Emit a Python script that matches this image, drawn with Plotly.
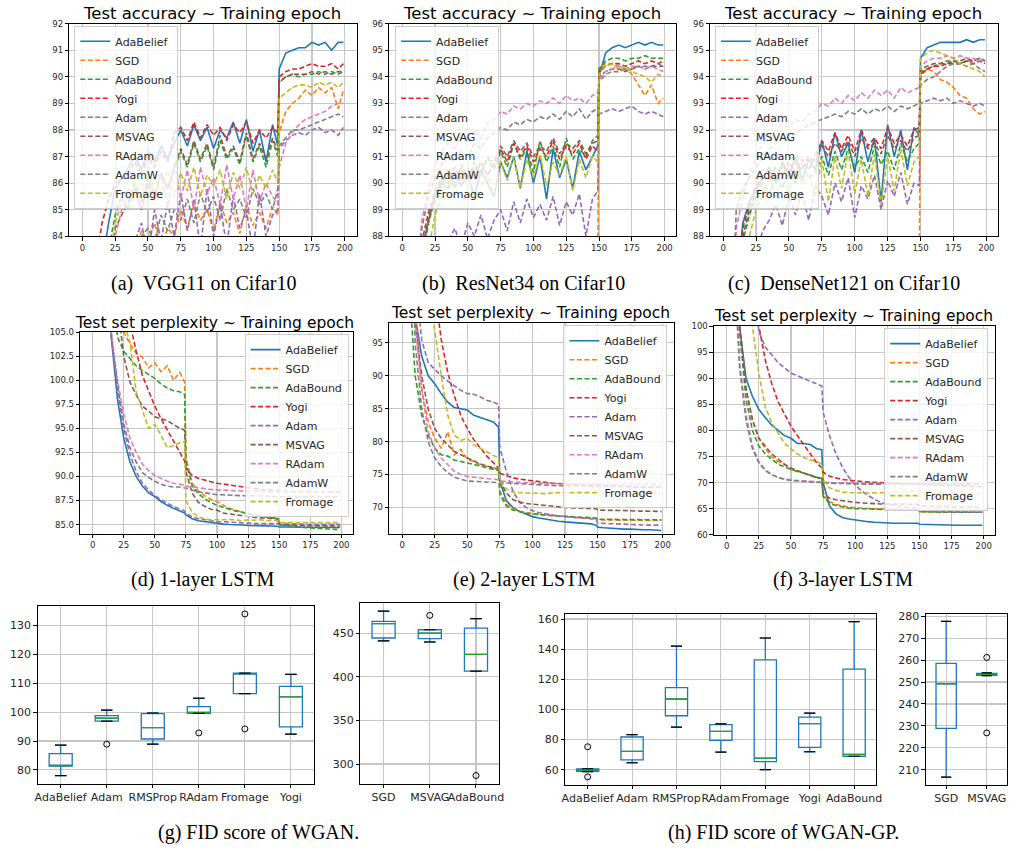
import plotly.graph_objects as go

W, H = 1019, 851

OPTIMIZERS = ["AdaBelief", "SGD", "AdaBound", "Yogi", "Adam", "MSVAG", "RAdam", "AdamW", "Fromage"]
COLORS = ["#1f77b4", "#ff7f0e", "#2ca02c", "#d62728", "#9467bd", "#8c564b", "#e377c2", "#7f7f7f", "#bcbd22"]

EPOCHS_CIFAR = list(range(0, 150, 5)) + [149] + list(range(150, 200, 5)) + [199]
EPOCHS_LSTM = list(range(0, 75, 5)) + [74] + list(range(75, 150, 5)) + [149] + list(range(150, 200, 5)) + [199]

# ---------------- (a) VGG11 on Cifar10 : test accuracy ----------------
vgg_adabelief = [70, 76, 80, 83, 84.5, 85.8, 86.2, 86.6, 87.0, 86.5, 87.2, 86.8, 87.4, 86.9, 87.5,
                 88.0, 87.4, 88.2, 87.6, 88.1, 87.3, 88.0, 87.7, 88.3, 87.5, 88.4, 87.2, 88.0, 86.8, 88.2,
                 87.4, 90.3, 90.9, 91.0, 91.1, 91.1, 91.3, 91.2, 91.3, 91.0, 91.3, 91.3]
vgg_sgd = [60, 70, 75, 78, 80, 81.5, 82.5, 83.0, 83.5, 84.2, 83.8, 84.5, 83.6, 84.3, 84.0,
           85.0, 84.3, 85.2, 84.6, 85.0, 84.2, 85.3, 84.5, 84.9, 84.1, 85.2, 84.4, 84.9, 84.3, 85.1,
           84.8, 87.9, 88.7, 89.0, 89.2, 89.5, 89.3, 89.6, 89.4, 89.6, 88.8, 89.5]
vgg_adabound = [65, 74, 79, 82, 83.5, 84.8, 85.5, 85.0, 86.0, 85.3, 86.2, 85.6, 86.4, 85.8, 86.5,
                87.2, 86.6, 87.5, 86.8, 87.4, 86.5, 87.6, 86.9, 87.3, 86.7, 87.8, 86.8, 87.4, 86.6, 87.6,
                87.0, 89.8, 90.0, 90.1, 90.0, 90.1, 90.1, 90.2, 90.1, 90.2, 90.1, 90.2]
vgg_yogi = [72, 80, 83, 84.5, 85.4, 86.0, 86.1, 86.4, 86.8, 86.3, 87.0, 86.6, 87.2, 86.8, 87.9,
            88.1, 87.6, 88.3, 87.7, 88.2, 87.8, 88.1, 87.6, 88.2, 87.9, 88.3, 87.5, 88.0, 87.7, 88.1,
            87.9, 90.0, 90.2, 90.3, 90.3, 90.4, 90.5, 90.4, 90.4, 90.5, 90.3, 90.5]
vgg_adam = [55, 65, 72, 77, 80, 82.0, 82.5, 83.0, 83.8, 84.5, 83.2, 85.0, 83.8, 85.3, 84.0,
            85.6, 84.2, 85.4, 83.5, 85.8, 84.0, 85.2, 83.6, 85.5, 84.3, 85.0, 83.4, 85.6, 84.0, 84.8,
            85.0, 87.3, 87.6, 87.8, 87.9, 87.8, 88.0, 88.1, 87.9, 88.0, 87.8, 88.1]
vgg_msvag = [60, 72, 78, 81, 83, 84.3, 84.8, 85.3, 85.8, 85.0, 86.0, 85.5, 86.3, 85.8, 86.6,
             87.3, 86.7, 87.6, 86.9, 87.5, 86.6, 87.8, 87.0, 87.4, 86.8, 87.9, 86.9, 87.5, 86.9, 87.7,
             87.2, 89.8, 90.0, 90.1, 90.1, 90.1, 90.2, 90.1, 90.2, 90.1, 90.2, 90.2]
vgg_radam = [55, 68, 75, 79, 82, 84.0, 85.0, 85.5, 85.8, 85.0, 86.0, 85.3, 86.4, 85.1, 86.8,
             85.4, 86.5, 85.0, 86.6, 85.6, 86.2, 85.2, 86.7, 85.4, 86.3, 85.0, 86.5, 85.3, 86.0, 85.5,
             85.2, 86.6, 87.5, 87.9, 88.2, 88.4, 88.5, 88.6, 88.7, 88.9, 89.0, 89.0]
vgg_adamw = [50, 62, 70, 75, 78, 80.5, 82.0, 83.0, 83.8, 84.0, 84.3, 83.8, 84.8, 84.2, 85.0,
             84.6, 85.4, 84.5, 85.6, 84.9, 85.5, 84.6, 85.8, 85.0, 85.4, 84.7, 85.8, 85.2, 85.6, 85.0,
             85.8, 87.4, 87.7, 88.0, 88.0, 88.1, 88.2, 88.3, 88.4, 88.5, 88.6, 88.5]
vgg_fromage = [58, 70, 77, 81, 83, 84.5, 85.3, 85.8, 85.5, 86.0, 85.3, 86.2, 85.6, 86.5, 85.5,
               86.4, 85.7, 86.6, 85.5, 86.3, 85.9, 86.5, 85.4, 86.4, 85.8, 86.6, 85.6, 86.3, 85.8, 86.5,
               86.0, 89.2, 89.4, 89.6, 89.7, 89.7, 89.6, 89.8, 89.7, 89.8, 89.6, 89.8]

# ---------------- (b) ResNet34 on Cifar10 ----------------
res_adabelief = [70, 80, 85, 87.5, 88.6, 89.6, 90.0, 89.8, 90.4, 89.9, 90.3, 89.5, 90.5, 90.0, 89.5,
                 90.8, 90.2, 91.0, 89.8, 91.2, 90.0, 91.0, 89.4, 91.3, 90.2, 90.9, 89.8, 91.2, 90.5, 91.0,
                 91.4, 94.0, 94.9, 95.1, 95.2, 95.1, 95.2, 95.3, 95.2, 95.3, 95.2, 95.2]
res_sgd = [60, 70, 76, 79, 81, 82.5, 83.5, 84.0, 84.5, 85.0, 85.3, 85.0, 85.6, 85.2, 85.5,
           86.3, 85.8, 86.5, 86.0, 86.4, 85.8, 86.6, 86.1, 86.3, 85.9, 86.5, 86.0, 86.2, 85.8, 86.4,
           86.5, 94.3, 94.5, 94.5, 94.4, 94.3, 94.1, 93.7, 93.3, 93.7, 93.0, 93.2]
res_adabound = [65, 78, 84, 87.0, 88.5, 89.4, 89.9, 90.4, 89.8, 90.6, 90.1, 90.8, 90.3, 91.0, 90.5,
                91.2, 90.6, 91.5, 90.9, 91.3, 90.4, 91.6, 90.8, 91.4, 90.6, 91.7, 90.9, 91.3, 91.0, 91.6,
                91.8, 94.3, 94.6, 94.7, 94.7, 94.6, 94.7, 94.7, 94.8, 94.7, 94.7, 94.7]
res_yogi = [68, 79, 85, 87.8, 88.9, 89.7, 90.2, 90.0, 90.6, 90.1, 90.5, 90.2, 90.8, 90.3, 90.7,
            91.3, 90.8, 91.5, 91.0, 91.4, 90.8, 91.3, 91.0, 91.6, 90.9, 91.4, 91.1, 91.5, 90.9, 91.4,
            91.2, 94.2, 94.4, 94.5, 94.5, 94.4, 94.5, 94.6, 94.5, 94.6, 94.5, 94.6]
res_adam = [55, 70, 78, 83, 85, 86.5, 87.5, 87.8, 88.3, 87.6, 88.5, 88.0, 88.8, 87.9, 88.6,
            89.0, 88.2, 89.3, 88.5, 89.4, 88.7, 89.2, 88.6, 89.5, 88.4, 89.3, 88.8, 89.6, 88.0, 89.4,
            89.7, 92.6, 92.7, 92.8, 92.7, 92.8, 92.9, 92.7, 92.6, 92.7, 92.6, 92.5]
res_msvag = [62, 77, 84, 87.3, 88.7, 89.5, 90.1, 90.5, 90.0, 90.7, 90.2, 90.6, 90.4, 90.9, 90.8,
             91.4, 91.0, 91.6, 91.2, 91.5, 91.0, 91.4, 91.2, 91.7, 91.1, 91.5, 91.3, 91.6, 91.1, 91.5,
             91.6, 94.0, 94.2, 94.3, 94.3, 94.2, 94.3, 94.4, 94.3, 94.4, 94.4, 94.4]
res_radam = [60, 78, 86, 88.6, 89.8, 90.6, 91.2, 91.5, 91.3, 91.8, 91.5, 92.0, 91.7, 92.3, 92.4,
             92.7, 92.6, 92.9, 92.8, 93.0, 92.9, 93.1, 93.0, 93.2, 93.0, 93.3, 93.1, 93.2, 93.0, 93.3,
             93.4, 93.9, 94.2, 94.3, 94.4, 94.3, 94.4, 94.4, 94.3, 94.4, 94.3, 94.2]
res_adamw = [58, 76, 85, 88.3, 89.5, 90.2, 90.7, 91.0, 90.8, 91.2, 91.0, 91.5, 91.3, 91.7, 91.9,
             92.1, 92.0, 92.3, 92.2, 92.4, 92.3, 92.5, 92.4, 92.6, 92.4, 92.7, 92.5, 92.8, 92.4, 92.7,
             92.8, 93.8, 94.1, 94.2, 94.2, 94.3, 94.3, 94.4, 94.4, 94.4, 94.5, 94.4]
res_fromage = [55, 72, 80, 85, 87.5, 88.8, 89.6, 90.2, 89.5, 90.4, 89.8, 90.6, 89.9, 90.3, 89.6,
               90.8, 90.1, 91.0, 89.8, 90.9, 90.2, 91.1, 89.9, 90.8, 90.3, 91.0, 89.7, 90.9, 90.2, 91.0,
               90.8, 94.1, 94.4, 94.5, 94.3, 94.4, 94.2, 94.1, 94.0, 93.8, 94.1, 94.0]

# ---------------- (c) DenseNet121 on Cifar10 ----------------
den_adabelief = [70, 80, 86, 88.5, 89.3, 89.8, 90.2, 90.6, 90.0, 90.8, 90.3, 91.0, 90.1, 90.9, 90.5,
                 91.6, 90.6, 91.9, 91.0, 91.5, 90.4, 92.0, 90.8, 91.7, 89.3, 92.2, 91.0, 92.0, 90.5, 92.1,
                 91.8, 94.7, 95.1, 95.2, 95.3, 95.3, 95.3, 95.3, 95.4, 95.3, 95.4, 95.4]
den_sgd = [58, 69, 75, 79, 81, 82.5, 83.2, 84.0, 84.3, 85.0, 85.1, 85.0, 85.5, 85.2, 85.6,
           86.2, 85.7, 86.4, 86.1, 86.3, 85.9, 86.5, 86.0, 86.4, 85.8, 86.6, 86.1, 86.3, 85.9, 86.5,
           86.4, 94.0, 94.3, 94.2, 93.9, 93.8, 93.6, 93.3, 93.2, 92.8, 92.6, 92.7]
den_adabound = [66, 79, 85, 87.8, 88.8, 89.5, 90.0, 89.6, 90.3, 89.8, 90.5, 90.0, 90.7, 90.2, 90.4,
                91.0, 90.3, 91.2, 90.5, 91.3, 90.6, 91.0, 90.4, 91.4, 90.7, 91.2, 90.5, 91.5, 90.8, 91.3,
                91.5, 94.2, 94.3, 94.4, 94.5, 94.5, 94.6, 94.5, 94.6, 94.6, 94.7, 94.6]
den_yogi = [68, 80, 86, 88.3, 89.2, 89.9, 90.3, 90.1, 90.6, 90.2, 90.8, 90.4, 90.9, 90.5, 91.0,
            91.6, 91.2, 91.9, 91.3, 91.8, 91.2, 92.0, 91.4, 91.7, 91.3, 92.1, 91.5, 91.8, 91.4, 92.0,
            92.1, 94.1, 94.3, 94.4, 94.4, 94.5, 94.5, 94.5, 94.6, 94.5, 94.6, 94.5]
den_adam = [55, 70, 79, 84, 86, 87.3, 88.2, 88.6, 89.2, 88.4, 89.5, 88.8, 89.7, 88.6, 89.9,
            89.5, 88.8, 90.0, 89.3, 90.2, 88.7, 89.9, 89.4, 90.3, 89.0, 90.1, 89.5, 90.4, 89.2, 90.0,
            89.9, 93.0, 93.1, 93.2, 93.1, 93.2, 93.0, 93.1, 93.0, 92.9, 93.0, 92.9]
den_msvag = [62, 78, 85, 88.0, 89.0, 89.7, 90.2, 90.5, 90.1, 90.7, 90.3, 90.8, 90.5, 91.0, 90.8,
             91.4, 91.0, 91.5, 91.2, 91.6, 91.0, 91.7, 91.3, 91.5, 91.1, 91.8, 91.3, 91.6, 91.2, 91.7,
             91.8, 94.3, 94.4, 94.5, 94.5, 94.6, 94.6, 94.6, 94.7, 94.6, 94.7, 94.6]
den_radam = [62, 82, 88.3, 89.5, 90.3, 91.0, 91.5, 91.8, 92.0, 92.2, 92.1, 92.4, 92.3, 92.6, 92.7,
             93.0, 92.9, 93.2, 93.0, 93.3, 93.1, 93.4, 93.2, 93.5, 93.3, 93.5, 93.2, 93.6, 93.4, 93.5,
             93.6, 94.4, 94.6, 94.7, 94.7, 94.8, 94.7, 94.8, 94.7, 94.7, 94.6, 94.7]
den_adamw = [60, 83, 89.0, 89.8, 90.2, 90.6, 91.0, 91.3, 91.5, 91.7, 91.6, 91.9, 92.0, 92.2, 92.3,
             92.4, 92.5, 92.6, 92.5, 92.7, 92.6, 92.8, 92.6, 92.8, 92.7, 92.9, 92.7, 92.9, 92.8, 92.9,
             93.0, 93.7, 93.9, 94.0, 94.2, 94.4, 94.5, 94.5, 94.4, 94.5, 94.3, 94.2]
den_fromage = [55, 72, 81, 86, 88, 89.0, 89.6, 90.3, 89.4, 90.5, 89.6, 90.8, 89.9, 90.4, 89.5,
               90.9, 89.3, 91.0, 89.8, 91.2, 89.6, 90.9, 89.5, 91.1, 89.2, 91.0, 89.7, 91.3, 89.9, 90.8,
               91.0, 94.7, 94.9, 95.0, 94.9, 94.8, 94.7, 94.5, 94.4, 94.3, 94.2, 94.0]

# ---------------- (d) 1-layer LSTM : test perplexity ----------------
l1_adabelief = [180, 140, 115, 104.5, 98, 94, 91.5, 90, 89, 88.3, 87.9, 87.4, 87.0, 86.7, 86.4,
                86.2,
                86.0, 85.6, 85.4, 85.3, 85.2, 85.1, 85.05, 85.0, 85.0, 84.95, 84.9, 84.9, 84.9, 84.85, 84.85,
                84.8,
                84.75, 84.75, 84.75, 84.7, 84.7, 84.7, 84.7, 84.7, 84.7, 84.7, 84.7]
l1_sgd = [250, 180, 140, 120, 112, 105, 103.8, 102.8, 102.4, 101.3, 101.8, 100.9, 101.5, 100.0, 100.8,
          99.8,
          92.0, 89.3, 88.5, 88.0, 87.6, 87.4, 87.0, 86.7, 86.5, 86.3, 86.1, 86.0, 85.9, 85.8, 85.7,
          85.6,
          85.2, 85.1, 85.1, 85.05, 85.0, 85.0, 85.0, 85.0, 85.0, 85.0, 85.0]
l1_adabound = [240, 170, 130, 112, 104.5, 103.0, 102.3, 101.5, 101.0, 100.6, 100.2, 99.6, 99.2, 98.9, 98.8,
               98.5,
               91.5, 89.0, 88.2, 87.7, 87.3, 87.0, 86.8, 86.6, 86.4, 86.3, 86.1, 86.0, 85.9, 85.8, 85.7,
               85.6,
               85.0, 84.9, 84.8, 84.75, 84.7, 84.65, 84.6, 84.6, 84.55, 84.5, 84.5]
l1_yogi = [400, 250, 170, 135, 118, 110, 106, 103, 100.5, 98.8, 97.3, 96.0, 94.8, 93.6, 92.5,
           91.6,
           90.8, 90.1, 89.8, 89.6, 89.45, 89.3, 89.2, 89.1, 89.0, 88.9, 88.8, 88.7, 88.65, 88.6, 88.55,
           88.5,
           88.5, 88.45, 88.45, 88.4, 88.4, 88.4, 88.4, 88.4, 88.4, 88.4, 88.4]
l1_adam = [175, 135, 112, 104.8, 99, 95, 92.3, 90.5, 89.3, 88.6, 88.0, 87.6, 87.2, 86.9, 86.6,
           86.4,
           86.2, 85.8, 85.6, 85.5, 85.4, 85.3, 85.3, 85.25, 85.2, 85.2, 85.15, 85.1, 85.1, 85.1, 85.1,
           85.1,
           85.0, 85.0, 85.0, 85.0, 85.0, 85.0, 85.0, 85.0, 85.0, 85.0, 85.0]
l1_msvag = [230, 170, 130, 115, 108, 102.5, 99.8, 98.5, 97.3, 96.8, 96.2, 96.0, 95.8, 95.4, 95.0,
            94.8,
            90.5, 88.3, 87.3, 86.9, 86.6, 86.5, 86.2, 86.1, 86.0, 85.9, 85.8, 85.75, 85.7, 85.65, 85.6,
            85.6,
            85.0, 84.95, 84.9, 84.9, 84.9, 84.9, 84.9, 84.9, 84.85, 84.85, 84.85]
l1_radam = [190, 145, 118, 105, 100, 96.5, 94, 92.5, 91.3, 90.6, 90.1, 89.8, 89.5, 89.3, 89.2,
            89.1,
            89.0, 88.9, 88.8, 88.7, 88.65, 88.6, 88.6, 88.55, 88.5, 88.5, 88.5, 88.45, 88.45, 88.4, 88.4,
            88.4,
            88.4, 88.4, 88.4, 88.4, 88.4, 88.4, 88.4, 88.4, 88.4, 88.4, 88.4]
l1_adamw = [185, 140, 116, 104.5, 99.5, 95.5, 93, 91.5, 90.4, 89.9, 89.5, 89.2, 89.0, 88.9, 88.9,
            88.8,
            88.8, 88.6, 88.4, 88.3, 88.2, 88.1, 88.1, 88.05, 88.0, 88.0, 88.0, 88.0, 87.95, 87.95, 87.9,
            87.9,
            87.9, 87.9, 87.9, 87.9, 87.9, 87.9, 87.9, 87.9, 87.9, 87.9, 87.9]
l1_fromage = [260, 190, 145, 120, 110, 106, 104, 98.8, 96.8, 95.0, 95.4, 94.3, 93.0, 93.2, 93.5,
              93.6,
              87.5, 86.3, 85.8, 85.6, 85.5, 85.5, 85.5, 85.45, 85.5, 85.4, 85.5, 85.45, 85.5, 85.4, 85.45,
              85.4,
              85.2, 85.2, 85.2, 85.25, 85.2, 85.25, 85.2, 85.2, 85.25, 85.2, 85.2]

# ---------------- (e) 2-layer LSTM ----------------
l2_adabelief = [200, 130, 99, 93, 90, 88.8, 87.3, 86.0, 85.2, 85.0, 84.8, 84.0, 83.7, 83.3, 83.0,
                82.2,
                74.0, 71.0, 70.0, 69.4, 69.0, 68.6, 68.4, 68.2, 68.0, 67.9, 67.8, 67.7, 67.7, 67.6, 67.5,
                67.3,
                67.0, 66.9, 66.8, 66.8, 66.7, 66.7, 66.6, 66.6, 66.6, 66.5, 66.5]
l2_sgd = [250, 150, 100, 88, 83, 80.5, 79.0, 81.5, 78.0, 78.8, 77.3, 77.0, 76.5, 76.3, 76.0,
          75.8,
          72.5, 70.5, 69.8, 69.4, 69.2, 69.0, 68.9, 68.8, 68.7, 68.6, 68.55, 68.5, 68.45, 68.4, 68.35,
          68.3,
          68.1, 68.1, 68.05, 68.0, 68.0, 68.0, 68.0, 68.0, 68.0, 68.0, 68.0]
l2_adabound = [220, 105, 90, 84, 81, 79, 78, 77.8, 77.2, 77.0, 76.8, 76.5, 76.3, 76.0, 75.8,
               75.6,
               72.0, 70.2, 69.6, 69.3, 69.1, 69.0, 68.9, 68.8, 68.75, 68.7, 68.65, 68.6, 68.55, 68.5, 68.45,
               68.4,
               68.2, 68.2, 68.15, 68.1, 68.1, 68.1, 68.1, 68.1, 68.1, 68.1, 68.1]
l2_yogi = [400, 250, 160, 125, 110, 103, 95.5, 90.5, 87.0, 84.0, 82.0, 80.3, 79.0, 77.8, 76.8,
           76.0,
           75.2, 74.8, 74.5, 74.3, 74.15, 74.0, 73.9, 73.8, 73.7, 73.6, 73.55, 73.5, 73.45, 73.4, 73.35,
           73.3,
           73.3, 73.25, 73.2, 73.2, 73.15, 73.15, 73.1, 73.1, 73.1, 73.1, 73.1]
l2_adam = [300, 150, 105, 95.5, 92, 91.0, 90.0, 89.2, 88.5, 87.8, 87.3, 87.2, 86.8, 86.3, 86.0,
           85.7,
           79.0, 75.5, 72.5, 70.8, 70.0, 69.5, 69.2, 69.0, 68.8, 68.7, 68.6, 68.5, 68.4, 68.3, 68.25,
           68.2,
           67.6, 67.55, 67.5, 67.45, 67.4, 67.4, 67.35, 67.3, 67.3, 67.3, 67.3]
l2_msvag = [230, 140, 98, 90, 85, 82, 80.5, 79.5, 78.5, 78, 77.5, 77, 76.6, 76.3, 76.0,
            75.8,
            74.0, 72.2, 71.2, 70.8, 70.6, 70.5, 70.3, 70.2, 70.1, 70.0, 70.0, 69.9, 69.9, 69.85, 69.8,
            69.8,
            69.6, 69.6, 69.55, 69.5, 69.5, 69.5, 69.45, 69.4, 69.4, 69.4, 69.4]
l2_radam = [240, 140, 98, 88, 81.5, 79, 77.5, 76.5, 75.5, 75.0, 74.7, 74.6, 74.5, 74.4, 74.3,
            74.2,
            74.0, 73.9, 73.85, 73.8, 73.75, 73.7, 73.7, 73.65, 73.6, 73.6, 73.6, 73.55, 73.55, 73.5, 73.5,
            73.5,
            73.5, 73.5, 73.5, 73.5, 73.5, 73.5, 73.5, 73.5, 73.5, 73.5, 73.5]
l2_adamw = [220, 130, 95, 85, 80, 77.5, 76.2, 75.3, 74.6, 74.3, 74.0, 73.95, 73.9, 73.85, 73.8,
            73.75,
            73.7, 73.6, 73.55, 73.5, 73.45, 73.4, 73.4, 73.35, 73.3, 73.3, 73.3, 73.25, 73.25, 73.2, 73.2,
            73.2,
            73.2, 73.2, 73.15, 73.15, 73.15, 73.1, 73.1, 73.1, 73.1, 73.1, 73.1]
l2_fromage = [500, 300, 150, 110, 102, 97, 90, 84, 81, 80.2, 80.5, 79.5, 79.0, 78.5, 78.0,
              77.5,
              74.0, 72.8, 72.3, 72.2, 72.2, 72.2, 72.1, 72.1, 72.2, 72.2, 72.3, 72.3, 72.4, 72.4, 72.5,
              72.5,
              72.3, 72.3, 72.2, 72.3, 72.2, 72.2, 72.3, 72.2, 72.2, 72.2, 72.2]

# ---------------- (f) 3-layer LSTM ----------------
l3_adabelief = [300, 150, 100, 90, 86.5, 84, 82.5, 81, 80, 79, 78.5, 77.5, 77.5, 77.3, 76.5,
                76.3,
                70.0, 65.5, 64.0, 63.3, 63.0, 62.8, 62.6, 62.5, 62.4, 62.3, 62.25, 62.2, 62.2, 62.2, 62.3,
                62.2,
                62.0, 61.95, 61.9, 61.85, 61.8, 61.8, 61.8, 61.8, 61.8, 61.8, 61.8]
l3_sgd = [300, 150, 100, 88, 82, 78.5, 76.5, 75, 74, 73.5, 72.5, 72.2, 71.8, 71.5, 71.0,
          70.8,
          67.5, 66.3, 65.8, 65.5, 65.3, 65.2, 65.1, 65.0, 64.95, 64.9, 64.9, 64.85, 64.85, 64.8, 64.75,
          64.7,
          64.4, 64.4, 64.35, 64.35, 64.3, 64.3, 64.3, 64.3, 64.3, 64.3, 64.3]
l3_adabound = [300, 150, 99, 86, 80, 77, 75.5, 74.5, 73.5, 73.0, 72.5, 72.1, 71.8, 71.4, 71.0,
               70.7,
               67.3, 66.0, 65.6, 65.3, 65.1, 65.0, 64.95, 64.9, 64.85, 64.8, 64.8, 64.8, 64.8, 64.8, 64.8,
               64.75,
               64.4, 64.35, 64.3, 64.3, 64.3, 64.3, 64.3, 64.3, 64.3, 64.3, 64.3]
l3_yogi = [600, 400, 250, 160, 120, 100, 93.5, 89, 85.5, 83, 80.8, 79, 77.2, 75.5, 73.8,
           72.8,
           72.0, 71.2, 70.9, 70.6, 70.45, 70.3, 70.2, 70.1, 70.05, 70.0, 69.95, 69.9, 69.85, 69.8, 69.75,
           69.7,
           69.6, 69.55, 69.5, 69.45, 69.4, 69.35, 69.3, 69.3, 69.25, 69.2, 69.2]
l3_adam = [500, 300, 180, 130, 108, 99, 96, 94.5, 93.0, 92.0, 91.0, 90.5, 90.0, 89.5, 89.0,
           88.5,
           83.5, 79.0, 75.5, 73.0, 71.0, 69.5, 68.4, 67.5, 66.8, 66.2, 65.9, 65.6, 65.4, 65.3, 65.1,
           65.0,
           64.6, 64.5, 64.45, 64.4, 64.4, 64.35, 64.35, 64.3, 64.3, 64.3, 64.3]
l3_msvag = [300, 160, 100, 88, 82, 78.5, 77, 75.5, 74.5, 73.5, 72.8, 72.3, 71.8, 71.3, 71.0,
            70.8,
            68.0, 67.0, 66.7, 66.5, 66.3, 66.2, 66.1, 66.0, 65.95, 65.9, 65.9, 65.85, 65.85, 65.8, 65.8,
            65.8,
            65.5, 65.5, 65.45, 65.4, 65.4, 65.35, 65.3, 65.3, 65.3, 65.3, 65.3]
l3_radam = [300, 120, 93, 83, 77, 74, 72.5, 71.5, 71.0, 70.7, 70.5, 70.4, 70.3, 70.25, 70.2,
            70.1,
            70.0, 69.95, 69.9, 69.9, 69.85, 69.8, 69.8, 69.8, 69.8, 69.8, 69.8, 69.8, 69.8, 69.8, 69.8,
            69.8,
            69.8, 69.8, 69.8, 69.8, 69.8, 69.8, 69.8, 69.8, 69.8, 69.8, 69.8]
l3_adamw = [300, 115, 92, 82, 76.5, 73.8, 72.3, 71.5, 71.0, 70.6, 70.4, 70.3, 70.2, 70.15, 70.1,
            70.05,
            70.0, 69.9, 69.85, 69.8, 69.8, 69.75, 69.75, 69.7, 69.7, 69.7, 69.7, 69.7, 69.7, 69.7, 69.7,
            69.7,
            69.7, 69.7, 69.7, 69.7, 69.7, 69.7, 69.7, 69.7, 69.7, 69.7, 69.7]
l3_fromage = [600, 400, 250, 150, 100, 91, 84.5, 81.5, 79.5, 77.5, 76.5, 75.5, 74.8, 74.3, 74.0,
              73.6,
              70.5, 69.0, 68.5, 68.2, 68.1, 68.0, 68.0, 68.0, 68.0, 68.0, 68.05, 68.1, 68.2, 68.3, 68.4,
              68.4,
              68.0, 68.0, 67.95, 67.9, 67.9, 67.9, 67.9, 67.9, 67.9, 67.9, 67.9]

# ---------------- (g) FID of WGAN (box statistics) ----------------
g_left_names = ["AdaBelief", "Adam", "RMSProp", "RAdam", "Fromage", "Yogi"]
g_left_low = [78.0, 96.9, 88.9, 99.6, 106.4, 92.4]
g_left_q1 = [81.3, 96.9, 90.7, 99.6, 106.4, 94.9]
g_left_med = [81.4, 97.9, 94.6, 99.9, 113.3, 105.3]
g_left_q3 = [85.6, 98.8, 99.5, 101.9, 113.5, 108.9]
g_left_high = [88.6, 100.7, 99.7, 104.8, 113.5, 113.1]
g_left_out = [[], [88.9], [], [92.8], [134.0, 94.2], []]

g_right_names = ["SGD", "MSVAG", "AdaBound"]
g_right_low = [441.0, 439.8, 406.4]
g_right_q1 = [444.4, 443.6, 406.4]
g_right_med = [460.9, 450.0, 425.6]
g_right_q3 = [463.5, 453.8, 455.6]
g_right_high = [475.2, 453.8, 466.5]
g_right_out = [[], [470.3], [286.8]]

# ---------------- (h) FID of WGAN-GP ----------------
h_left_names = ["AdaBelief", "Adam", "RMSProp", "RAdam", "Fromage", "Yogi", "AdaBound"]
h_left_low = [58.7, 64.6, 88.2, 71.7, 60.0, 71.9, 68.9]
h_left_q1 = [58.9, 66.5, 95.8, 79.5, 65.4, 74.8, 68.9]
h_left_med = [59.7, 72.1, 106.9, 85.4, 67.6, 90.6, 70.2]
h_left_q3 = [60.5, 81.7, 114.4, 89.9, 132.9, 94.9, 126.8]
h_left_high = [60.6, 83.2, 142.0, 90.4, 147.4, 97.5, 158.3]
h_left_out = [[75.2, 55.2], [], [], [], [], [], []]

h_right_names = ["SGD", "MSVAG"]
h_right_low = [206.7, 252.9]
h_right_q1 = [228.9, 253.0]
h_right_med = [249.2, 253.4]
h_right_q3 = [258.5, 253.9]
h_right_high = [277.6, 254.2]
h_right_out = [[], [261.2, 226.8]]

EPOCH_TICKS = [0, 25, 50, 75, 100, 125, 150, 175, 200]

# ---------------------------------------------------------------------------
fig = go.Figure()
layout = dict(width=W, height=H, margin=dict(l=0, r=0, t=0, b=0),
              paper_bgcolor="white", plot_bgcolor="white",
              font=dict(family="DejaVu Sans", color="#262626"),
              showlegend=True, annotations=[])


def px_x(px):
    return px / W


def px_y(py):
    return 1 - py / H


def ax_names(i):
    return ("x" if i == 1 else f"x{i}", "y" if i == 1 else f"y{i}")


def lay_keys(i):
    return ("xaxis" if i == 1 else f"xaxis{i}", "yaxis" if i == 1 else f"yaxis{i}")


AX_COMMON = dict(showline=True, mirror=True, linecolor="black", linewidth=1,
                 ticks="outside", ticklen=3.5, tickwidth=1, tickcolor="black",
                 showgrid=True, gridcolor="#c6c6c6", gridwidth=1.1, zeroline=False)


def setup_axes(i, box, xrange, yrange, xtickvals, ytickvals, xticktext=None,
               ytickformat=None, fsize=8.5):
    xk, yk = lay_keys(i)
    xn, yn = ax_names(i)
    x0, x1, y0, y1 = box
    xa = dict(AX_COMMON, domain=[px_x(x0), px_x(x1)], anchor=yn, range=xrange,
              tickmode="array", tickvals=xtickvals, tickangle=0,
              tickfont=dict(size=fsize, color="#262626"))
    if xticktext is not None:
        xa["ticktext"] = xticktext
    ya = dict(AX_COMMON, domain=[px_y(y1), px_y(y0)], anchor=xn, range=yrange,
              tickmode="array", tickvals=ytickvals,
              tickfont=dict(size=fsize, color="#262626"))
    if ytickformat:
        ya["tickformat"] = ytickformat
    layout[xk] = xa
    layout[yk] = ya


def add_text(text, xc, yc, size, family="DejaVu Sans", color="black"):
    layout["annotations"].append(dict(text=text, x=px_x(xc), y=px_y(yc), xref="paper", yref="paper",
                                      xanchor="center", yanchor="middle", showarrow=False,
                                      font=dict(size=size, family=family, color=color)))


def line_panel(i, epochs, series, legend_id, leg_pos):
    xn, yn = ax_names(i)
    for name, color, ys in zip(OPTIMIZERS, COLORS, series):
        assert len(ys) == len(epochs), (i, name, len(ys), len(epochs))
        fig.add_trace(go.Scatter(
            x=epochs, y=ys, mode="lines", name=name, legend=legend_id,
            xaxis=xn, yaxis=yn, hoverinfo="skip",
            line=dict(color=color, width=1.6,
                      dash="solid" if name == "AdaBelief" else "5px,2.5px")))
    lx, ly, anchor = leg_pos
    layout[legend_id] = dict(x=px_x(lx), y=px_y(ly), xanchor=anchor, yanchor="top",
                             bgcolor="rgba(255,255,255,0.8)", bordercolor="#cccccc",
                             borderwidth=1, tracegroupgap=0,
                             font=dict(size=11, family="DejaVu Sans", color="#262626"))


def box_panel(i, low, q1, med, q3, high, outliers):
    xn, yn = ax_names(i)
    pos = list(range(len(med)))
    fig.add_trace(go.Box(x=pos, q1=q1, median=med, q3=q3, lowerfence=low, upperfence=high,
                         width=0.5, whiskerwidth=0.5, boxpoints=False,
                         line=dict(color="#1f77b4", width=1.3), fillcolor="rgba(0,0,0,0)",
                         showlegend=False, xaxis=xn, yaxis=yn, hoverinfo="skip"))
    mx, my = [], []
    for p, m in zip(pos, med):
        mx += [p - 0.25, p + 0.25, None]
        my += [m, m, None]
    fig.add_trace(go.Scatter(x=mx, y=my, mode="lines", line=dict(color="#2ca02c", width=1.3),
                             showlegend=False, xaxis=xn, yaxis=yn, hoverinfo="skip"))
    cx, cy = [], []
    for p, lo, hi in zip(pos, low, high):
        cx += [p - 0.125, p + 0.125, None, p - 0.125, p + 0.125, None]
        cy += [lo, lo, None, hi, hi, None]
    fig.add_trace(go.Scatter(x=cx, y=cy, mode="lines", line=dict(color="black", width=1.2),
                             showlegend=False, xaxis=xn, yaxis=yn, hoverinfo="skip"))
    ox, oy = [], []
    for p, outs in zip(pos, outliers):
        for v in outs:
            ox.append(p)
            oy.append(v)
    fig.add_trace(go.Scatter(x=ox, y=oy, mode="markers",
                             marker=dict(symbol="circle-open", size=6, color="black",
                                         line=dict(width=1, color="black")),
                             showlegend=False, xaxis=xn, yaxis=yn, hoverinfo="skip"))


XR = [-9.95, 208.95]

VGG = [vgg_adabelief, vgg_sgd, vgg_adabound, vgg_yogi, vgg_adam, vgg_msvag, vgg_radam, vgg_adamw, vgg_fromage]
RES = [res_adabelief, res_sgd, res_adabound, res_yogi, res_adam, res_msvag, res_radam, res_adamw, res_fromage]
DEN = [den_adabelief, den_sgd, den_adabound, den_yogi, den_adam, den_msvag, den_radam, den_adamw, den_fromage]
L1 = [l1_adabelief, l1_sgd, l1_adabound, l1_yogi, l1_adam, l1_msvag, l1_radam, l1_adamw, l1_fromage]
L2 = [l2_adabelief, l2_sgd, l2_adabound, l2_yogi, l2_adam, l2_msvag, l2_radam, l2_adamw, l2_fromage]
L3 = [l3_adabelief, l3_sgd, l3_adabound, l3_yogi, l3_adam, l3_msvag, l3_radam, l3_adamw, l3_fromage]

# Row 1
setup_axes(1, (66, 356, 19, 234), XR, [84, 92], EPOCH_TICKS, list(range(84, 93)))
line_panel(1, EPOCHS_CIFAR, VGG, "legend", (71, 21, "left"))
setup_axes(2, (389, 679, 19, 234), XR, [88, 96], EPOCH_TICKS, list(range(88, 97)))
line_panel(2, EPOCHS_CIFAR, RES, "legend2", (395, 21, "left"))
setup_axes(3, (713, 1004, 19, 234), XR, [88, 96], EPOCH_TICKS, list(range(88, 97)))
line_panel(3, EPOCHS_CIFAR, DEN, "legend3", (718, 21, "left"))
for xc in (210, 533, 857):
    add_text("Test accuracy ~ Training epoch", xc, 9, 16.5)

# Row 2
setup_axes(4, (77, 352, 331, 535), XR, [84.05, 105], EPOCH_TICKS,
           [85, 87.5, 90, 92.5, 95, 97.5, 100, 102.5, 105], ytickformat=".1f")
line_panel(4, EPOCHS_LSTM, L1, "legend4", (348, 333, "right"))
setup_axes(5, (389, 677, 322, 535), XR, [66, 98], EPOCH_TICKS, [70, 75, 80, 85, 90, 95])
line_panel(5, EPOCHS_LSTM, L2, "legend5", (670, 324, "right"))
setup_axes(6, (717, 1001, 325, 536), XR, [60, 100], EPOCH_TICKS, list(range(60, 101, 5)))
line_panel(6, EPOCHS_LSTM, L3, "legend6", (994, 327, "right"))
add_text("Test set perplexity ~ Training epoch", 213, 321.5, 15.5)
add_text("Test set perplexity ~ Training epoch", 532, 311.5, 15.5)
add_text("Test set perplexity ~ Training epoch", 858, 315, 15.5)

# Row 3 (box plots)
setup_axes(7, (34, 313, 608, 788), [-0.5, len(g_left_names) - 0.5], [75.2, 136.8],
           list(range(len(g_left_names))), [80, 90, 100, 110, 120, 130], xticktext=g_left_names, fsize=11)
box_panel(7, g_left_low, g_left_q1, g_left_med, g_left_q3, g_left_high, g_left_out)
setup_axes(8, (360, 500, 605, 788), [-0.5, len(g_right_names) - 0.5], [277.4, 484.6],
           list(range(len(g_right_names))), [300, 350, 400, 450], xticktext=g_right_names, fsize=11)
box_panel(8, g_right_low, g_right_q1, g_right_med, g_right_q3, g_right_high, g_right_out)
setup_axes(9, (567, 881, 616, 789), [-0.5, len(h_left_names) - 0.5], [50.0, 163.5],
           list(range(len(h_left_names))), [60, 80, 100, 120, 140, 160], xticktext=h_left_names, fsize=11)
box_panel(9, h_left_low, h_left_q1, h_left_med, h_left_q3, h_left_high, h_left_out)
setup_axes(10, (931, 1013, 616, 789), [-0.5, len(h_right_names) - 0.5], [203.2, 281.1],
           list(range(len(h_right_names))), list(range(210, 281, 10)), xticktext=h_right_names, fsize=11)
box_panel(10, h_right_low, h_right_q1, h_right_med, h_right_q3, h_right_high, h_right_out)

# Captions
SERIF = "Liberation Serif"
add_text("(a)  VGG11 on Cifar10", 202, 282, 20, SERIF)
add_text("(b)  ResNet34 on Cifar10", 525, 282, 20, SERIF)
add_text("(c)  DenseNet121 on Cifar10", 848, 282, 20, SERIF)
add_text("(d) 1-layer LSTM", 201, 581, 20, SERIF)
add_text("(e) 2-layer LSTM", 525, 581, 20, SERIF)
add_text("(f) 3-layer LSTM", 847, 581, 20, SERIF)
add_text("(g) FID score of WGAN.", 257, 837, 20, SERIF)
add_text("(h) FID score of WGAN-GP.", 787, 837, 20, SERIF)

fig.update_layout(**layout)
fig.write_html("out.html",
               config={"displayModeBar": False, "staticPlot": True},
               post_script="document.body.style.margin='0';document.body.style.padding='0';"
                           "document.documentElement.style.overflow='hidden';")
